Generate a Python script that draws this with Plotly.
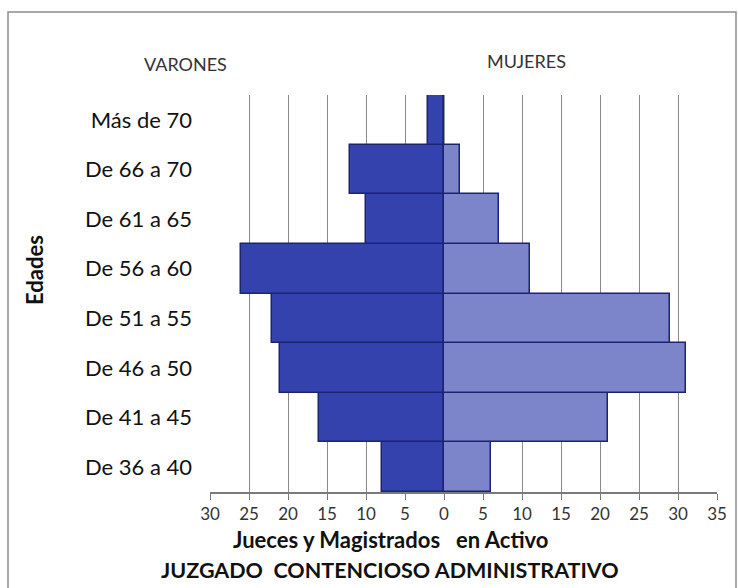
import plotly.graph_objects as go

# Age groups, bottom to top
edades = ["De 36 a 40", "De 41 a 45", "De 46 a 50", "De 51 a 55",
          "De 56 a 60", "De 61 a 65", "De 66 a 70", "Más de 70"]
varones = [8, 16, 21, 22, 26, 10, 12, 2]
mujeres = [6, 21, 31, 29, 11, 7, 2, 0]

tick_vals = [-30, -25, -20, -15, -10, -5, 0, 5, 10, 15, 20, 25, 30, 35]
tick_text = [str(abs(v)) for v in tick_vals]

FONT = "Lato, 'Open Sans', sans-serif"

# plot-area box in pixels, used to place the free-floating texts
L, R, T, B = 210, 717, 95, 492
W, H = R - L, B - T


def px(x):
    return (x - L) / W


def py(y):
    return (B - y) / H


fig = go.Figure()
fig.add_trace(go.Bar(
    y=edades, x=[-v for v in varones], orientation="h", name="Varones",
    marker=dict(color="#3342AC", line=dict(color="#1C2470", width=1.5)),
    customdata=varones, hovertemplate="%{y}: %{customdata}<extra>Varones</extra>",
))
fig.add_trace(go.Bar(
    y=edades, x=mujeres, orientation="h", name="Mujeres",
    marker=dict(color="#7D85CA", line=dict(color="#1C2470", width=1.5)),
    hovertemplate="%{y}: %{x}<extra>Mujeres</extra>",
))

fig.update_layout(
    width=738, height=588,
    margin=dict(l=L, r=738 - R, t=T, b=588 - B),
    paper_bgcolor="white", plot_bgcolor="white",
    barmode="relative", bargap=0,
    showlegend=False,
    font=dict(family=FONT, color="#222"),
    xaxis=dict(
        range=[-30, 35], tickvals=tick_vals, ticktext=tick_text,
        showgrid=True, gridcolor="#8a8a8a", gridwidth=1,
        zeroline=True, zerolinecolor="#8f9a8f", zerolinewidth=1.5,
        showline=True, linecolor="#7a7a7a", linewidth=1.5,
        ticks="outside", ticklen=6, tickcolor="#7a7a7a",
        tickfont=dict(size=17, color="#333"),
    ),
    yaxis=dict(
        showgrid=False, showline=False, ticks="",
        tickfont=dict(size=22, color="#111"), ticklabelstandoff=17,
    ),
    shapes=[dict(
        type="rect", xref="paper", yref="paper",
        x0=px(8), x1=px(736), y0=py(600), y1=py(12),
        line=dict(color="#8c8c8c", width=1.5), layer="below",
    )],
    annotations=[
        dict(text="VARONES", x=px(185), y=py(63.5),
             font=dict(size=18, color="#333")),
        dict(text="MUJERES", x=px(526), y=py(61.5),
             font=dict(size=18, color="#333")),
        dict(text="<b>Jueces y Magistrados   en Activo</b>", x=px(391), y=py(539),
             font=dict(size=22, color="#111")),
        dict(text="<b>JUZGADO  CONTENCIOSO ADMINISTRATIVO</b>", x=px(390), y=py(570),
             font=dict(size=21.5, color="#111")),
        dict(text="<b>Edades</b>", textangle=-90, x=px(34), y=py(270),
             font=dict(size=22, color="#111")),
    ],
)
fig.update_annotations(xref="paper", yref="paper", showarrow=False,
                       xanchor="center", yanchor="middle")

fig.write_html("out.html")
